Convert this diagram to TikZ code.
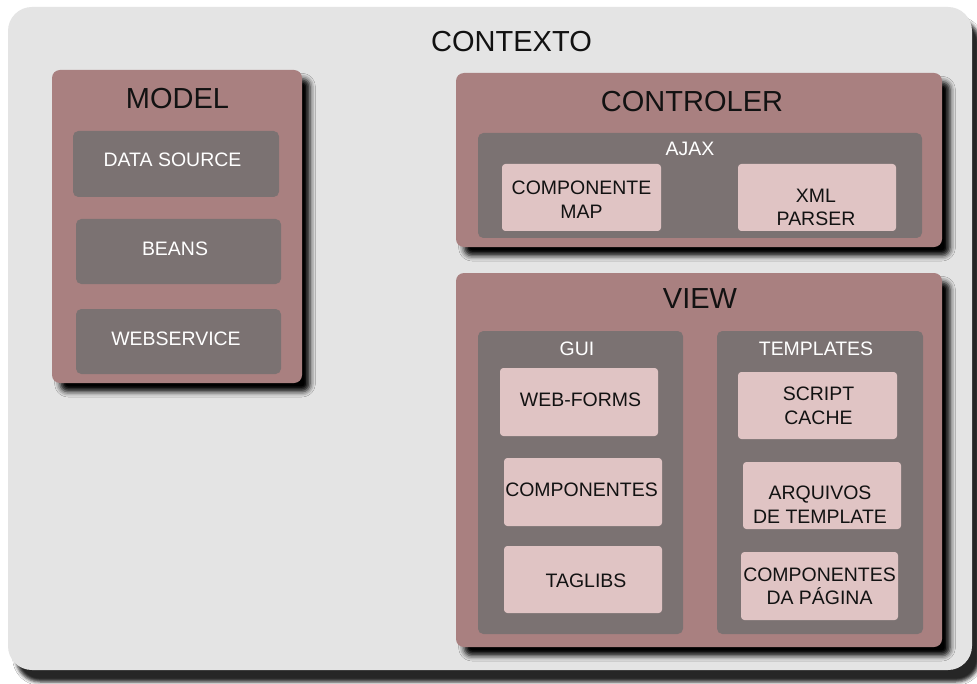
\documentclass[tikz,border=0pt]{standalone}
\usepackage{fontspec}
\setmainfont{Liberation Sans}
\usetikzlibrary{fit,shadows.blur}

\definecolor{ctxfill}{HTML}{E4E4E4}
\definecolor{layerfill}{HTML}{A98080}
\definecolor{groupfill}{HTML}{7B7272}
\definecolor{itemfill}{HTML}{E0C4C4}
\definecolor{inktext}{HTML}{121212}

\begin{document}
\begin{tikzpicture}[x=0.75pt,y=-0.75pt,
  every node/.style={inner sep=0pt,outer sep=0pt},
  contextbox/.style={fill=ctxfill,rounded corners=18pt,
    blur shadow={shadow xshift=6pt,shadow yshift=-9pt,shadow blur radius=2.5pt,shadow opacity=85}},
  layerbox/.style={fill=layerfill,rounded corners=6pt,
    blur shadow={shadow xshift=6pt,shadow yshift=-6.5pt,shadow blur radius=4pt,shadow opacity=100}},
  groupbox/.style={fill=groupfill,rounded corners=4pt},
  itembox/.style={fill=itemfill,rounded corners=2.5pt},
  bigtitle/.style={font=\fontsize{21.75}{26}\selectfont,text=inktext},
  grouptext/.style={font=\fontsize{14.6}{17.6}\selectfont,text=white,align=center},
  itemtext/.style={font=\fontsize{14.6}{17.6}\selectfont,text=inktext,align=center}
]
\useasboundingbox (0,0) rectangle (977,684);
\fill[white] (0,0) rectangle (977,684);

% outer context
\node[contextbox,fit={(8,7) (972,670)}] (context) {};
\node[bigtitle] (contexttitle) at (511.5,42) {CONTEXTO};

% model layer
\node[layerbox,fit={(52,70) (302,383)}] (model) {};
\node[bigtitle] (modeltitle) at (177.5,99) {MODEL};
\node[groupbox,fit={(73,131) (279,197)}] (datasource) {};
\node[grouptext] (datasourcetext) at (172.5,160) {DATA SOURCE};
\node[groupbox,fit={(76,219) (281,284)}] (beans) {};
\node[grouptext] (beanstext) at (175,248.5) {BEANS};
\node[groupbox,fit={(76,309) (281,374)}] (webservice) {};
\node[grouptext] (webservicetext) at (176,338.5) {WEBSERVICE};

% controller layer
\node[layerbox,fit={(456,73) (942,247)}] (controler) {};
\node[bigtitle] (controlertitle) at (692,102) {CONTROLER};
\node[groupbox,fit={(478,133) (922,238)}] (ajax) {};
\node[grouptext] (ajaxtext) at (690,148.5) {AJAX};
\node[itembox,fit={(502,164) (661,231)}] (cmap) {};
\node[itemtext] (cmaptext) at (581.5,199.5) {COMPONENTE\\MAP};
\node[itembox,fit={(738,164) (896,231)}] (xml) {};
\node[itemtext] (xmltext) at (816,207.5) {XML\\PARSER};

% view layer
\node[layerbox,fit={(456,273) (942,647)}] (view) {};
\node[bigtitle] (viewtitle) at (700,298.5) {VIEW};
\node[groupbox,fit={(478,331) (683,634)}] (gui) {};
\node[grouptext] (guitext) at (577,349) {GUI};
\node[itembox,fit={(500,368) (658,436)}] (webforms) {};
\node[itemtext] (webformstext) at (580.5,400) {WEB-FORMS};
\node[itembox,fit={(504,458) (662,526)}] (componentes) {};
\node[itemtext] (componentestext) at (581.5,489.5) {COMPONENTES};
\node[itembox,fit={(504,546) (662,613)}] (taglibs) {};
\node[itemtext] (taglibstext) at (586,580.5) {TAGLIBS};

\node[groupbox,fit={(717,331) (923,634)}] (templates) {};
\node[grouptext] (templatestext) at (816,349) {TEMPLATES};
\node[itembox,fit={(738,372) (897,439)}] (script) {};
\node[itemtext] (scripttext) at (818.5,406) {SCRIPT\\CACHE};
\node[itembox,fit={(743,462) (901,529)}] (arquivos) {};
\node[itemtext] (arquivostext) at (820,504.5) {ARQUIVOS\\DE TEMPLATE};
\node[itembox,fit={(741,552) (898,620)}] (pagecomp) {};
\node[itemtext] (pagecomptext) at (819.5,586.5) {COMPONENTES\\DA PÁGINA};
\end{tikzpicture}
\end{document}
